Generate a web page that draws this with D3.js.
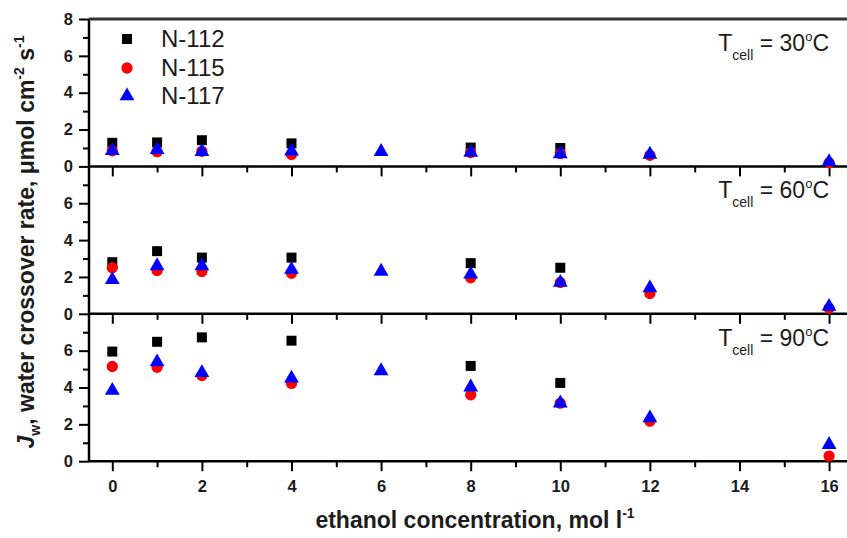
<!DOCTYPE html>
<html><head><meta charset="utf-8">
<script src="https://cdn.jsdelivr.net/npm/d3@7"></script>
<style>
body{margin:0;background:#fff;}
svg{display:block;font-family:"Liberation Sans",Arial,sans-serif;}
</style></head>
<body><svg id="c" width="847" height="538"></svg>
<script>
const conc = [0, 1, 2, 4, 6, 8, 10, 12, 16];
const panelLabels = ["30", "60", "90"];
const seriesNames = ["N-112", "N-115", "N-117"];
const seriesColors = ["#000000", "#ff0000", "#0000ff"];
// values per panel (30, 60, 90 °C); null = no measurement
const n112_30 = [1.28, 1.30, 1.42, 1.25, null, 1.02, 1.00, null, null];
const n115_30 = [0.85, 0.80, 0.82, 0.65, null, 0.75, 0.70, 0.60, 0.20];
const n117_30 = [0.85, 0.90, 0.80, 0.82, 0.80, 0.76, 0.68, 0.65, 0.25];
const n112_60 = [2.80, 3.40, 3.05, 3.05, null, 2.75, 2.50, null, null];
const n115_60 = [2.50, 2.35, 2.30, 2.20, null, 1.95, 1.70, 1.10, 0.30];
const n117_60 = [1.85, 2.60, 2.60, 2.40, 2.30, 2.15, 1.70, 1.40, 0.40];
const n112_90 = [5.95, 6.48, 6.72, 6.54, null, 5.17, 4.25, null, null];
const n115_90 = [5.14, 5.10, 4.65, 4.22, null, 3.60, 3.15, 2.17, 0.28];
const n117_90 = [3.84, 5.38, 4.80, 4.50, 4.90, 4.02, 3.15, 2.34, 0.90];
const xMajorTicks = [0, 2, 4, 6, 8, 10, 12, 14, 16];
const xMinorTicks = [1, 3, 5, 7, 9, 11, 13, 15];
const yMajorTicks = [0, 2, 4, 6, 8];
const yMinorTicks = [1, 3, 5, 7];

const panels = [
  [n112_30, n115_30, n117_30],
  [n112_60, n115_60, n117_60],
  [n112_90, n115_90, n117_90]
];
const symbols = [d3.symbolSquare, d3.symbolCircle, d3.symbolTriangle];
const symSizes = [100, 100, 95];

const svg = d3.select("#c");
const L = 89, R = 847, T = 19, PH = 147.4;
const x = d3.scaleLinear().domain([-0.52, 16.4]).range([L, R]);
const txtCol = "#1c1c1c";
const FF = "Liberation Sans, Arial, sans-serif";

function styleAxis(a) {
  a.select(".domain").remove();
  a.selectAll("line").attr("stroke", "#000").attr("stroke-width", 2);
  a.selectAll("text").attr("font-size", 16.5).attr("font-weight", "bold").attr("fill", txtCol)
    .attr("font-family", FF);
}

panels.forEach((series, i) => {
  const top = T + PH * i, bot = T + PH * (i + 1);
  const y = d3.scaleLinear().domain([0, 8]).range([bot, top]);
  const g = svg.append("g");
  const ya = g.append("g").attr("transform", `translate(${L},0)`)
    .call(d3.axisLeft(y).tickValues(i === 0 ? yMajorTicks : yMajorTicks.slice(0, 4))
      .tickSize(10).tickPadding(6).tickFormat(d3.format("d")));
  const ym = g.append("g").attr("transform", `translate(${L},0)`)
    .call(d3.axisLeft(y).tickValues(yMinorTicks).tickSize(6).tickFormat(""));
  styleAxis(ya); styleAxis(ym);
  const xa = g.append("g").attr("transform", `translate(0,${bot})`)
    .call(d3.axisBottom(x).tickValues(xMajorTicks).tickSize(10).tickPadding(9)
      .tickFormat(i === 2 ? d3.format("d") : ""));
  const xm = g.append("g").attr("transform", `translate(0,${bot})`)
    .call(d3.axisBottom(x).tickValues(xMinorTicks).tickSize(6).tickFormat(""));
  styleAxis(xa); styleAxis(xm);
  g.append("line").attr("x1", L).attr("x2", R).attr("y1", bot).attr("y2", bot)
    .attr("stroke", "#000").attr("stroke-width", 2.5);
  series.forEach((vals, s) => {
    const pts = conc.map((c, k) => ({c, v: vals[k]})).filter(d => d.v !== null);
    g.selectAll(null).data(pts).enter().append("path")
      .attr("d", d3.symbol().type(symbols[s]).size(symSizes[s]))
      .attr("transform", d => `translate(${x(d.c)},${y(d.v)})`)
      .attr("fill", seriesColors[s]);
  });
  const lt = g.append("text").attr("x", 829).attr("y", top + 32).attr("text-anchor", "end")
    .attr("font-size", 23).attr("fill", txtCol);
  lt.append("tspan").text("T");
  lt.append("tspan").attr("font-size", 14).attr("dy", 9).text("cell");
  lt.append("tspan").attr("dy", -9).text(" = " + panelLabels[i]);
  lt.append("tspan").attr("font-size", 13).attr("dy", -10).text("o");
  lt.append("tspan").attr("dy", 10).text("C");
});

svg.append("line").attr("x1", L).attr("x2", L).attr("y1", T).attr("y2", T + PH * 3)
  .attr("stroke", "#000").attr("stroke-width", 2.5);
svg.append("line").attr("x1", L).attr("x2", R).attr("y1", T).attr("y2", T)
  .attr("stroke", "#333").attr("stroke-width", 3);

const legY = [39, 68, 96];
seriesNames.forEach((n, s) => {
  svg.append("path").attr("d", d3.symbol().type(symbols[s]).size(symSizes[s])())
    .attr("transform", `translate(127,${legY[s]})`).attr("fill", seriesColors[s]);
  svg.append("text").attr("x", 161).attr("y", legY[s] + 8).attr("font-size", 24)
    .attr("fill", txtCol).text(n);
});

const yl = svg.append("text").attr("transform", "translate(34,242) rotate(-90)")
  .attr("text-anchor", "middle").attr("font-size", 23).attr("font-weight", "bold").attr("fill", txtCol);
yl.append("tspan").attr("font-style", "italic").text("J");
yl.append("tspan").attr("font-size", 14).attr("dy", 6).text("w");
yl.append("tspan").attr("dy", -6).text(", water crossover rate, μmol cm");
yl.append("tspan").attr("font-size", 14).attr("dy", -10).text("-2");
yl.append("tspan").attr("dy", 10).text(" s");
yl.append("tspan").attr("font-size", 14).attr("dy", -10).text("-1");

const xl = svg.append("text").attr("x", 475).attr("y", 528).attr("text-anchor", "middle")
  .attr("font-size", 23).attr("font-weight", "bold").attr("fill", txtCol);
xl.append("tspan").text("ethanol concentration, mol l");
xl.append("tspan").attr("font-size", 14).attr("dy", -10).text("-1");
</script></body></html>
